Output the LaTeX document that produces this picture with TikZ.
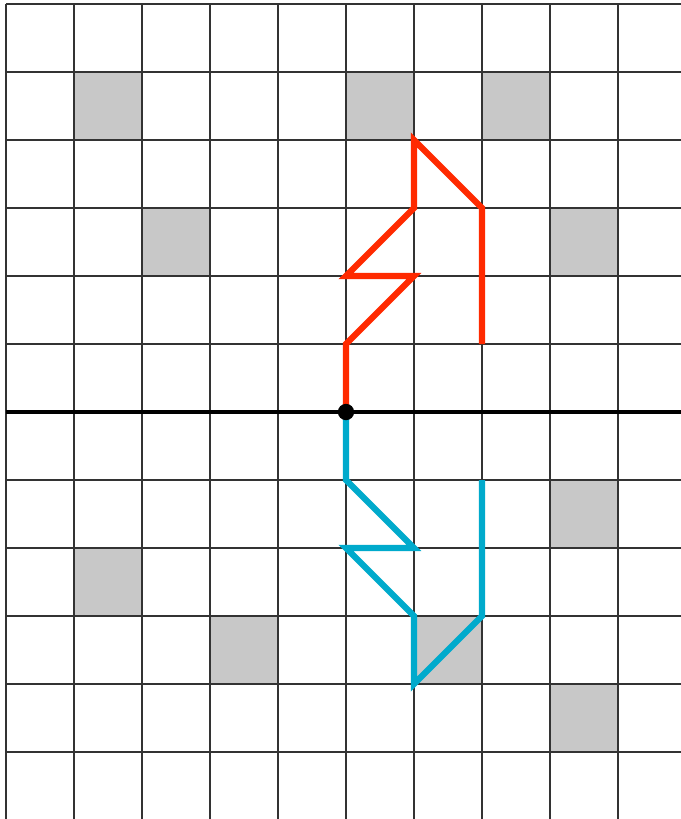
\documentclass[tikz,border=0pt]{standalone}
\definecolor{pathred}{HTML}{FF2A00}
\definecolor{pathblue}{HTML}{00AACC}
\definecolor{cellgray}{HTML}{C8C8C8}
\tikzset{
  gridline/.style={draw=black!80,line width=0.5pt},
  axisline/.style={draw=black,line width=1.8pt},
  walk/.style={line width=2.6pt,line join=miter},
}
\begin{document}
\begin{tikzpicture}[scale=1]
    \useasboundingbox (-5.088,-5.985) rectangle (4.926,6.059);
    \fill[white] (-5.088,-5.985) rectangle (4.926,6.059);
    % shaded cells
    \foreach \cx/\cy in {-4/4,0/4,2/4,-3/2,3/2,3/-2,-4/-3,-2/-4,1/-4,3/-5}
        \fill[cellgray] (\cx,\cy) rectangle ++(1,1);
    % grid
    \foreach \gx in {-5,...,4}
        \draw[gridline] (\gx,-6.1)--(\gx,6);
    \foreach \gy in {-5,...,6}
        \draw[gridline] (-5,\gy)--(5,\gy);
    \draw[axisline] (-5,0)--(5,0);
    % walks
    \draw[walk,pathred] (0,0)--(0,1)--(1,2)--(0,2)--(1,3)--(1,4)--(2,3)--(2,1);
    \draw[walk,pathblue] (0,0)--(0,-1)--(1,-2)--(0,-2)--(1,-3)--(1,-4)--(2,-3)--(2,-1);
    \fill[black] (0,0) circle (0.12);
\end{tikzpicture}
\end{document}
